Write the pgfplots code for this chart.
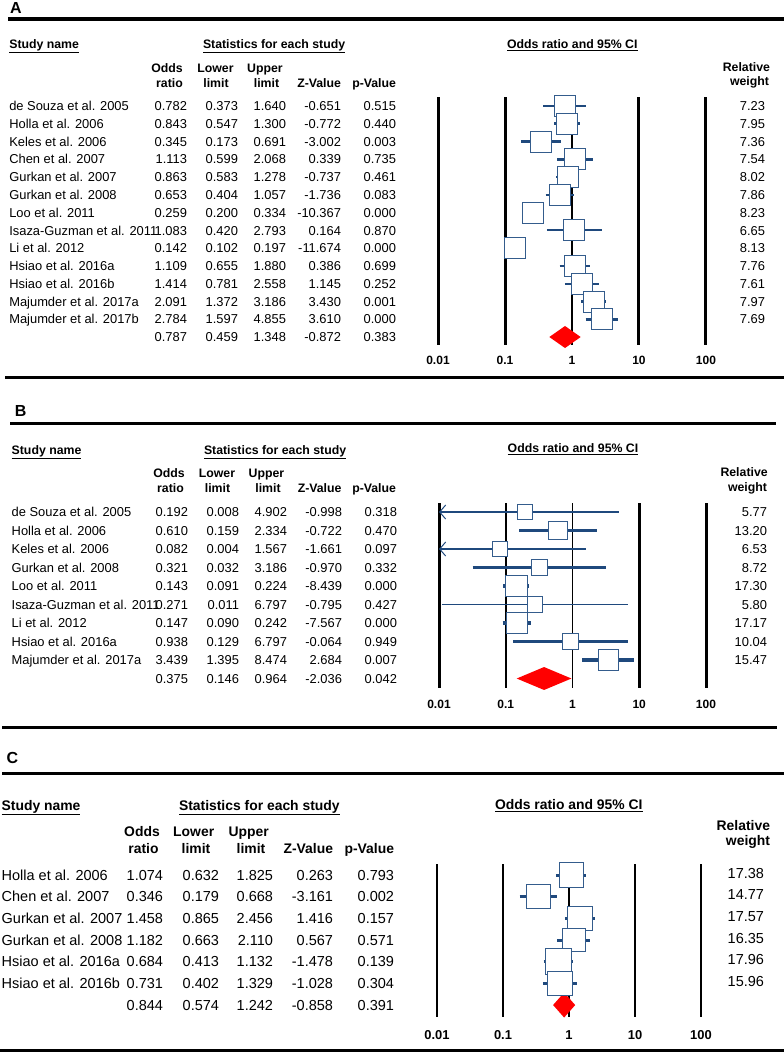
\documentclass[border=0pt]{standalone}
\usepackage{pgfplots}
\pgfplotsset{compat=1.18}
\usepackage{fontspec}
\setmainfont{Liberation Sans}
\usetikzlibrary{arrows.meta}
\definecolor{ciblue}{RGB}{31,73,125}
\definecolor{sqblue}{RGB}{52,92,140}
\newcommand\fr{\fontsize{12.9}{15}\selectfont}
\newcommand\fh{\fontsize{12.3}{15}\selectfont\bfseries}
\newcommand\fcr{\fontsize{14.5}{17}\selectfont}
\newcommand\fch{\fontsize{13.9}{16}\selectfont\bfseries}
\newcommand\fpl{\fontsize{16}{18}\selectfont\bfseries}
\pgfplotsset{
 myci/.style={color=ciblue, line width=#1},
 mybox/.style={only marks, mark=square*, mark size=#1,
   mark options={fill=white, draw=sqblue, line width=0.9pt, solid}},
 mydia/.style={fill=red, draw=none},
}
\newcommand\trow[9]{%
 \node[anchor=base west] at (\cN,#1) {#2};
 \node[anchor=base east] at (\cO,#1) {#3};
 \node[anchor=base east] at (\cL,#1) {#4};
 \node[anchor=base east] at (\cU,#1) {#5};
 \node[anchor=base east] at (\cZ,#1) {#6};
 \node[anchor=base east] at (\cP,#1) {#7};
 \node[anchor=base east] at (\cW,#9) {#8};}
\begin{document}
\begin{tikzpicture}
\begin{scope}[x=1pt,y=-1pt,every node/.style={inner sep=0pt,outer sep=0pt}]
\path[use as bounding box] (0,0) rectangle (784,1053);
% ---------------- Panel A ----------------
\node[anchor=base west,font=\fpl] at (10,13.3) {A};
\draw[line width=3.3pt] (8,19) -- (784,19);
\draw[line width=3pt] (5,377.5) -- (784,377.5);
\begin{scope}[every node/.append style={font=\fh}]
\node[anchor=base west] at (9.3,48.5) {\underline{Study name}};
\node[anchor=base west] at (203,48.5) {\underline{Statistics for each study}};
\node[anchor=base west] at (507,48.3) {\underline{Odds ratio and 95\% CI}};
\node[anchor=base] at (167,72.7) {Odds};
\node[anchor=base] at (169.5,87.3) {ratio};
\node[anchor=base] at (215.5,72.7) {Lower};
\node[anchor=base] at (216,87.3) {limit};
\node[anchor=base] at (265,72.7) {Upper};
\node[anchor=base] at (266.5,87.3) {limit};
\node[anchor=base east] at (341,87.3) {Z-Value};
\node[anchor=base east] at (396,87.3) {p-Value};
\node[anchor=base east] at (770,71.7) {Relative};
\node[anchor=base east] at (769,85) {weight};
\end{scope}
\begin{scope}[every node/.append style={font=\fr}]
\def\cN{9.3}\def\cO{187}\def\cL{238}\def\cU{286}\def\cZ{341}\def\cP{396}\def\cW{765}
\trow{110.6}{de Souza et al. 2005}{0.782}{0.373}{1.640}{-0.651}{0.515}{7.23}{110.6}
\trow{128.4}{Holla et al. 2006}{0.843}{0.547}{1.300}{-0.772}{0.440}{7.95}{128.4}
\trow{146.1}{Keles et al. 2006}{0.345}{0.173}{0.691}{-3.002}{0.003}{7.36}{146.1}
\trow{163.9}{Chen et al. 2007}{1.113}{0.599}{2.068}{0.339}{0.735}{7.54}{163.9}
\trow{181.7}{Gurkan et al. 2007}{0.863}{0.583}{1.278}{-0.737}{0.461}{8.02}{181.7}
\trow{199.5}{Gurkan et al. 2008}{0.653}{0.404}{1.057}{-1.736}{0.083}{7.86}{199.5}
\trow{217.2}{Loo et al. 2011}{0.259}{0.200}{0.334}{-10.367}{0.000}{8.23}{217.2}
\trow{235.0}{Isaza-Guzman et al. 2011}{1.083}{0.420}{2.793}{0.164}{0.870}{6.65}{235.0}
\trow{252.8}{Li et al. 2012}{0.142}{0.102}{0.197}{-11.674}{0.000}{8.13}{252.8}
\trow{270.5}{Hsiao et al. 2016a}{1.109}{0.655}{1.880}{0.386}{0.699}{7.76}{270.5}
\trow{288.3}{Hsiao et al. 2016b}{1.414}{0.781}{2.558}{1.145}{0.252}{7.61}{288.3}
\trow{306.1}{Majumder et al. 2017a}{2.091}{1.372}{3.186}{3.430}{0.001}{7.97}{306.1}
\trow{323.8}{Majumder et al. 2017b}{2.784}{1.597}{4.855}{3.610}{0.000}{7.69}{323.8}
\trow{341.6}{}{0.787}{0.459}{1.348}{-0.872}{0.383}{}{341.6}
\end{scope}
% ---------------- Panel B ----------------
\node[anchor=base west,font=\fpl] at (15,416.7) {B};
\draw[line width=3pt] (10,423) -- (776,423);
\draw[line width=3pt] (2,727) -- (777,727);
\begin{scope}[every node/.append style={font=\fh}]
\node[anchor=base west] at (11.7,454) {\underline{Study name}};
\node[anchor=base west] at (204,454) {\underline{Statistics for each study}};
\node[anchor=base west] at (507.7,452.7) {\underline{Odds ratio and 95\% CI}};
\node[anchor=base] at (169,477.5) {Odds};
\node[anchor=base] at (170.5,492.3) {ratio};
\node[anchor=base] at (217,477.5) {Lower};
\node[anchor=base] at (217.5,492.3) {limit};
\node[anchor=base] at (266.5,477.5) {Upper};
\node[anchor=base] at (268,492.3) {limit};
\node[anchor=base east] at (341.5,492.3) {Z-Value};
\node[anchor=base east] at (396,492.3) {p-Value};
\node[anchor=base east] at (767.7,476.7) {Relative};
\node[anchor=base east] at (767,491) {weight};
\end{scope}
\begin{scope}[every node/.append style={font=\fr}]
\def\cN{11.7}\def\cO{188}\def\cL{239}\def\cU{287}\def\cZ{342}\def\cP{397}\def\cW{767}
\trow{516.6}{de Souza et al. 2005}{0.192}{0.008}{4.902}{-0.998}{0.318}{5.77}{516.6}
\trow{535.1}{Holla et al. 2006}{0.610}{0.159}{2.334}{-0.722}{0.470}{13.20}{535.1}
\trow{553.6}{Keles et al. 2006}{0.082}{0.004}{1.567}{-1.661}{0.097}{6.53}{553.6}
\trow{572.1}{Gurkan et al. 2008}{0.321}{0.032}{3.186}{-0.970}{0.332}{8.72}{572.1}
\trow{590.6}{Loo et al. 2011}{0.143}{0.091}{0.224}{-8.439}{0.000}{17.30}{590.6}
\trow{609.1}{Isaza-Guzman et al. 2011}{0.271}{0.011}{6.797}{-0.795}{0.427}{5.80}{609.1}
\trow{627.6}{Li et al. 2012}{0.147}{0.090}{0.242}{-7.567}{0.000}{17.17}{627.6}
\trow{646.1}{Hsiao et al. 2016a}{0.938}{0.129}{6.797}{-0.064}{0.949}{10.04}{646.1}
\trow{664.6}{Majumder et al. 2017a}{3.439}{1.395}{8.474}{2.684}{0.007}{15.47}{664.6}
\trow{683.1}{}{0.375}{0.146}{0.964}{-2.036}{0.042}{}{683.1}
\end{scope}
% ---------------- Panel C ----------------
\node[anchor=base west,font=\fpl] at (6.7,763.3) {C};
\draw[line width=3pt] (2,773.3) -- (784,773.3);
\draw[line width=3pt] (0,1050) -- (784,1050);
\begin{scope}[every node/.append style={font=\fch}]
\node[anchor=base west] at (1.7,810) {\underline{Study name}};
\node[anchor=base west] at (179,810) {\underline{Statistics for each study}};
\node[anchor=base west] at (495,809.5) {\underline{Odds ratio and 95\% CI}};
\node[anchor=base] at (142,836.7) {Odds};
\node[anchor=base] at (143.5,853.3) {ratio};
\node[anchor=base] at (193.7,836.7) {Lower};
\node[anchor=base] at (196,853.3) {limit};
\node[anchor=base] at (248.7,836.7) {Upper};
\node[anchor=base] at (251,853.3) {limit};
\node[anchor=base east] at (333,853.3) {Z-Value};
\node[anchor=base east] at (394,853.3) {p-Value};
\node[anchor=base east] at (770,830) {Relative};
\node[anchor=base east] at (770,845) {weight};
\end{scope}
\begin{scope}[every node/.append style={font=\fcr}]
\def\cN{1.7}\def\cO{163}\def\cL{219}\def\cU{273}\def\cZ{333}\def\cP{394}\def\cW{764}
\trow{880.2}{Holla et al. 2006}{1.074}{0.632}{1.825}{0.263}{0.793}{17.38}{878.2}
\trow{901.9}{Chen et al. 2007}{0.346}{0.179}{0.668}{-3.161}{0.002}{14.77}{899.9}
\trow{923.5}{Gurkan et al. 2007}{1.458}{0.865}{2.456}{1.416}{0.157}{17.57}{921.5}
\trow{945.2}{Gurkan et al. 2008}{1.182}{0.663}{2.110}{0.567}{0.571}{16.35}{943.2}
\trow{966.9}{Hsiao et al. 2016a}{0.684}{0.413}{1.132}{-1.478}{0.139}{17.96}{964.9}
\trow{988.5}{Hsiao et al. 2016b}{0.731}{0.402}{1.329}{-1.028}{0.304}{15.96}{986.5}
\trow{1010.2}{}{0.844}{0.574}{1.242}{-0.858}{0.391}{}{1010.2}
\end{scope}
\end{scope}
% ---------------- Plot A ----------------
\begin{axis}[scale only axis, xmode=log, xmin=0.01, xmax=100, y dir=reverse,
  axis line style={draw=none}, major tick length=0pt, minor tick length=0pt, ytick=\empty,
  xtick={0.01,0.1,1,10,100}, xticklabels={0.01,0.1,1,10,100}, clip=false,
  anchor=north west, at={(438pt,-97pt)}, width=268pt, height=248pt, ymin=0.4935, ymax=14.45,
  xticklabel style={font=\fontsize{12}{14}\selectfont\bfseries, anchor=base, inner sep=0pt, yshift=-19.3pt}]
\addplot[black,line width=3pt] coordinates {(0.01,0.4935) (0.01,14.45)};
\addplot[black,line width=3pt] coordinates {(0.1,0.4935) (0.1,14.45)};
\addplot[black,line width=2.4pt] coordinates {(1,0.4935) (1,14.45)};
\addplot[black,line width=3pt] coordinates {(10,0.4935) (10,14.45)};
\addplot[black,line width=3pt] coordinates {(100,0.4935) (100,14.45)};
\addplot[myci=2.8pt] coordinates {(0.373,1) (1.640,1)};
\addplot[mybox=10.5pt] coordinates {(0.782,1)};
\addplot[myci=2.6pt] coordinates {(0.547,2) (1.300,2)};
\addplot[mybox=10.5pt] coordinates {(0.843,2)};
\addplot[myci=2.8pt] coordinates {(0.173,3) (0.691,3)};
\addplot[mybox=10.5pt] coordinates {(0.345,3)};
\addplot[myci=2.8pt] coordinates {(0.599,4) (2.068,4)};
\addplot[mybox=10.5pt] coordinates {(1.113,4)};
\addplot[myci=2.6pt] coordinates {(0.583,5) (1.278,5)};
\addplot[mybox=10.5pt] coordinates {(0.863,5)};
\addplot[myci=2.6pt] coordinates {(0.404,6) (1.057,6)};
\addplot[mybox=10.5pt] coordinates {(0.653,6)};
\addplot[myci=2.6pt] coordinates {(0.200,7) (0.334,7)};
\addplot[mybox=10.5pt] coordinates {(0.259,7)};
\addplot[myci=2.2pt] coordinates {(0.420,8) (2.793,8)};
\addplot[mybox=10.5pt] coordinates {(1.083,8)};
\addplot[myci=2.6pt] coordinates {(0.102,9) (0.197,9)};
\addplot[mybox=10.5pt] coordinates {(0.142,9)};
\addplot[myci=2.4pt] coordinates {(0.655,10) (1.880,10)};
\addplot[mybox=10.5pt] coordinates {(1.109,10)};
\addplot[myci=2.4pt] coordinates {(0.781,11) (2.558,11)};
\addplot[mybox=10.5pt] coordinates {(1.414,11)};
\addplot[myci=2.4pt] coordinates {(1.372,12) (3.186,12)};
\addplot[mybox=10.5pt] coordinates {(2.091,12)};
\addplot[myci=2.6pt] coordinates {(1.597,13) (4.855,13)};
\addplot[mybox=10.5pt] coordinates {(2.784,13)};
\addplot[mydia] coordinates {(0.459,14) (0.787,13.38) (1.348,14) (0.787,14.62)} --cycle;
\end{axis}
% ---------------- Plot B ----------------
\begin{axis}[scale only axis, xmode=log, xmin=0.01, xmax=100, y dir=reverse,
  axis line style={draw=none}, major tick length=0pt, minor tick length=0pt, ytick=\empty,
  xtick={0.01,0.1,1,10,100}, xticklabels={0.01,0.1,1,10,100}, clip=false,
  anchor=north west, at={(439pt,-503pt)}, width=267pt, height=185pt, ymin=0.5135, ymax=10.5135,
  xticklabel style={font=\fontsize{12}{14}\selectfont\bfseries, anchor=base, inner sep=0pt, yshift=-20.3pt}]
\addplot[black,line width=3pt] coordinates {(0.01,0.5135) (0.01,10.5135)};
\addplot[black,line width=2.2pt] coordinates {(0.1,0.5135) (0.1,10.5135)};
\addplot[black,line width=1.7pt] coordinates {(1,0.5135) (1,10.5135)};
\addplot[black,line width=3pt] coordinates {(10,0.5135) (10,10.5135)};
\addplot[black,line width=3pt] coordinates {(100,0.5135) (100,10.5135)};
\addplot[myci=2.3pt, -{Straight Barb[length=6pt,width=14pt,line width=1pt]}] coordinates {(4.902,1) (0.01,1)};
\addplot[mybox=7.6pt] coordinates {(0.192,1)};
\addplot[myci=3.3pt] coordinates {(0.159,2) (2.334,2)};
\addplot[mybox=9.3pt] coordinates {(0.610,2)};
\addplot[myci=2.2pt, -{Straight Barb[length=6pt,width=14pt,line width=1pt]}] coordinates {(1.567,3) (0.01,3)};
\addplot[mybox=7.6pt] coordinates {(0.082,3)};
\addplot[myci=2.6pt] coordinates {(0.032,4) (3.186,4)};
\addplot[mybox=7.8pt] coordinates {(0.321,4)};
\addplot[myci=3.3pt] coordinates {(0.091,5) (0.224,5)};
\addplot[mybox=10.9pt] coordinates {(0.143,5)};
\addplot[myci=1.8pt] coordinates {(0.011,6) (6.797,6)};
\addplot[mybox=7.6pt] coordinates {(0.271,6)};
\addplot[myci=3.3pt] coordinates {(0.090,7) (0.242,7)};
\addplot[mybox=10.6pt] coordinates {(0.147,7)};
\addplot[myci=3.2pt] coordinates {(0.129,8) (6.797,8)};
\addplot[mybox=7.9pt] coordinates {(0.938,8)};
\addplot[myci=3.2pt] coordinates {(1.395,9) (8.474,9)};
\addplot[mybox=10.2pt] coordinates {(3.439,9)};
\addplot[mydia] coordinates {(0.146,10) (0.375,9.38) (0.964,10) (0.375,10.62)} --cycle;
\end{axis}
% ---------------- Plot C ----------------
\begin{axis}[scale only axis, xmode=log, xmin=0.01, xmax=100, y dir=reverse,
  axis line style={draw=none}, major tick length=0pt, minor tick length=0pt, ytick=\empty,
  xtick={0.01,0.1,1,10,100}, xticklabels={0.01,0.1,1,10,100}, clip=false,
  anchor=north west, at={(437pt,-864pt)}, width=264pt, height=153pt, ymin=0.4924, ymax=7.5529,
  xticklabel style={font=\fontsize{12.9}{15}\selectfont\bfseries, anchor=base, inner sep=0pt, yshift=-22.3pt}]
\addplot[black,line width=2.6pt] coordinates {(0.01,0.4924) (0.01,7.5529)};
\addplot[black,line width=1.7pt] coordinates {(0.1,0.4924) (0.1,7.5529)};
\addplot[black,line width=1.3pt] coordinates {(1,0.4924) (1,7.5529)};
\addplot[black,line width=2.6pt] coordinates {(10,0.4924) (10,7.5529)};
\addplot[black,line width=2.3pt] coordinates {(100,0.4924) (100,7.5529)};
\addplot[myci=3pt] coordinates {(0.632,1) (1.825,1)};
\addplot[mybox=12.1pt] coordinates {(1.074,1)};
\addplot[myci=3pt] coordinates {(0.179,2) (0.668,2)};
\addplot[mybox=11.8pt] coordinates {(0.346,2)};
\addplot[myci=3pt] coordinates {(0.865,3) (2.456,3)};
\addplot[mybox=12.4pt] coordinates {(1.458,3)};
\addplot[myci=3pt] coordinates {(0.663,4) (2.110,4)};
\addplot[mybox=11.8pt] coordinates {(1.182,4)};
\addplot[myci=3pt] coordinates {(0.413,5) (1.132,5)};
\addplot[mybox=12.9pt] coordinates {(0.684,5)};
\addplot[myci=3pt] coordinates {(0.402,6) (1.329,6)};
\addplot[mybox=12.4pt] coordinates {(0.731,6)};
\addplot[mydia] coordinates {(0.574,7) (0.844,6.423) (1.242,7) (0.844,7.577)} --cycle;
\end{axis}
\end{tikzpicture}
\end{document}
